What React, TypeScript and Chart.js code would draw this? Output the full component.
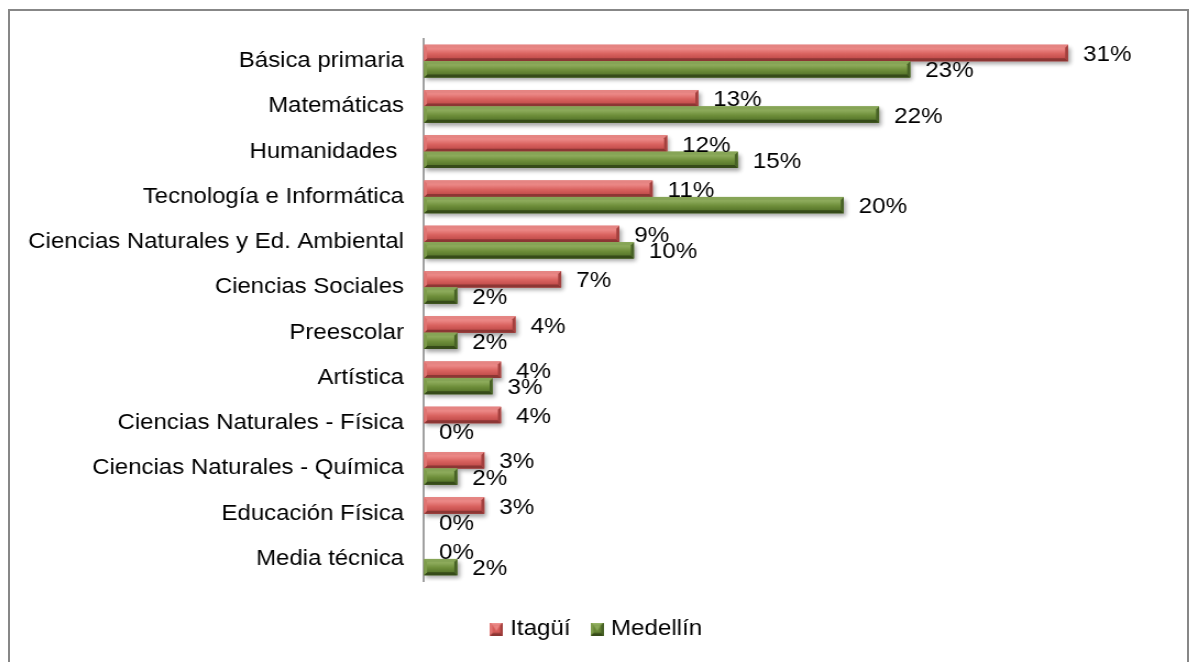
import React, { useEffect, useRef } from "react";
import { Chart, registerables } from "chart.js";

Chart.register(...registerables);

const categories = [
  "Básica primaria",
  "Matemáticas",
  "Humanidades ",
  "Tecnología e Informática",
  "Ciencias Naturales y Ed. Ambiental",
  "Ciencias Sociales",
  "Preescolar",
  "Artística",
  "Ciencias Naturales - Física",
  "Ciencias Naturales - Química",
  "Educación Física",
  "Media técnica",
];
const seriesNames = ["Itagüí", "Medellín"];
const itaguiValues = [31.0, 13.2, 11.7, 11.0, 9.4, 6.6, 4.4, 3.7, 3.7, 2.9, 2.9, 0];
const medellinValues = [23.4, 21.9, 15.1, 20.2, 10.1, 1.6, 1.6, 3.3, 0, 1.6, 0, 1.6];

const FONT = "'Liberation Sans', Arial, sans-serif";
const STRETCH = 1.1;
const CANVAS_W = 1070;
const CANVAS_H = 651;

type Pal = {
  face: [number, string][];
  top: string;
  bottom: string;
  left: string;
  right: string;
  mid: string;
};

const palettes: Pal[] = [
  {
    face: [
      [0, "#EE9290"],
      [0.28, "#EA8482"],
      [0.55, "#D9625F"],
      [0.8, "#C5504E"],
      [1, "#B04442"],
    ],
    top: "#E58482",
    bottom: "#8C3634",
    left: "#E07472",
    right: "#A3403E",
    mid: "#D45A57",
  },
  {
    face: [
      [0, "#97B466"],
      [0.28, "#8AA858"],
      [0.55, "#6E8E3A"],
      [0.8, "#5A792D"],
      [1, "#4B6724"],
    ],
    top: "#86A456",
    bottom: "#364B19",
    left: "#7E9C4B",
    right: "#486226",
    mid: "#668535",
  },
];

function poly(ctx: CanvasRenderingContext2D, pts: number[][], color: string) {
  ctx.beginPath();
  ctx.moveTo(pts[0][0], pts[0][1]);
  for (let i = 1; i < pts.length; i++) ctx.lineTo(pts[i][0], pts[i][1]);
  ctx.closePath();
  ctx.fillStyle = color;
  ctx.fill();
}

function drawBevelBar(
  ctx: CanvasRenderingContext2D,
  left: number,
  right: number,
  top: number,
  bottom: number,
  pal: Pal
) {
  const w = right - left;
  const h = bottom - top;
  if (w < 0.5) return;
  const bx = Math.min(3 / STRETCH, w / 2);
  const by = Math.min(3, h / 2);
  const g = ctx.createLinearGradient(0, top, 0, bottom);
  pal.face.forEach(([s, c]) => g.addColorStop(s, c));
  ctx.fillStyle = g;
  ctx.fillRect(left, top, w, h);
  poly(ctx, [[left, top], [right, top], [right - bx, top + by], [left + bx, top + by]], pal.top);
  poly(ctx, [[left, bottom], [right, bottom], [right - bx, bottom - by], [left + bx, bottom - by]], pal.bottom);
  poly(ctx, [[left, top], [left + bx, top + by], [left + bx, bottom - by], [left, bottom]], pal.left);
  poly(ctx, [[right, top], [right - bx, top + by], [right - bx, bottom - by], [right, bottom]], pal.right);
}

function makeMarker(pal: Pal): HTMLCanvasElement {
  const c = document.createElement("canvas");
  const W = 12;
  const H = 13;
  c.width = W;
  c.height = H;
  const g = c.getContext("2d") as CanvasRenderingContext2D;
  g.fillStyle = pal.mid;
  g.fillRect(0, 0, W, H);
  const b = 2.5;
  poly(g, [[0, 0], [W, 0], [W - b, b], [b, b]], pal.face[0][1]);
  poly(g, [[0, H], [W, H], [W - b, H - b], [b, H - b]], pal.bottom);
  poly(g, [[0, 0], [b, b], [b, H - b], [0, H]], pal.left);
  poly(g, [[W, 0], [W - b, b], [W - b, H - b], [W, H]], pal.right);
  poly(g, [[b, b], [W - b, b], [W / 2, 8.5]], pal.face[1][1]);
  return c;
}

const bevelPlugin = {
  id: "bevelAndLabels",
  beforeDatasetsDraw(chart: any) {
    const ctx = chart.ctx as CanvasRenderingContext2D;
    ctx.save();
    ctx.shadowColor = "rgba(0,0,0,0.35)";
    ctx.shadowBlur = 4;
    ctx.shadowOffsetX = 2;
    ctx.shadowOffsetY = 3;
  },
  afterDatasetsDraw(chart: any) {
    const ctx = chart.ctx as CanvasRenderingContext2D;
    ctx.restore();
    ctx.save();
    chart.data.datasets.forEach((ds: any, di: number) => {
      const meta = chart.getDatasetMeta(di);
      meta.data.forEach((bar: any) => {
        const p = bar.getProps(["x", "y", "base", "height"], true);
        drawBevelBar(
          ctx,
          Math.min(p.base, p.x),
          Math.max(p.base, p.x),
          p.y - p.height / 2,
          p.y + p.height / 2,
          palettes[di]
        );
      });
    });
    ctx.restore();
    ctx.save();
    ctx.font = `22px ${FONT}`;
    ctx.fillStyle = "#000";
    ctx.textAlign = "left";
    ctx.textBaseline = "middle";
    chart.data.datasets.forEach((ds: any, di: number) => {
      const meta = chart.getDatasetMeta(di);
      meta.data.forEach((bar: any, i: number) => {
        const p = bar.getProps(["x", "y"], true);
        const v = ds.data[i] as number;
        ctx.fillText(`${Math.round(v)}%`, p.x + 15 / STRETCH, p.y + 2);
      });
    });
    ctx.restore();
  },
};

export default function App() {
  const ref = useRef<HTMLCanvasElement | null>(null);

  useEffect(() => {
    if (!ref.current) return;
    const markers = palettes.map(makeMarker);
    const chart = new Chart(ref.current, {
      type: "bar",
      data: {
        labels: categories,
        datasets: [
          {
            label: seriesNames[0],
            data: itaguiValues,
            backgroundColor: palettes[0].mid,
            borderWidth: 0,
            categoryPercentage: 0.72,
            barPercentage: 1,
          },
          {
            label: seriesNames[1],
            data: medellinValues,
            backgroundColor: palettes[1].mid,
            borderWidth: 0,
            categoryPercentage: 0.72,
            barPercentage: 1,
          },
        ],
      },
      options: {
        indexAxis: "y",
        responsive: false,
        animation: false,
        devicePixelRatio: 1,
        layout: { padding: { top: 27.5, bottom: 12, left: 0, right: 0 } },
        scales: {
          x: {
            min: 0,
            max: 36.72,
            display: true,
            ticks: { display: false },
            grid: { display: false },
            border: { display: false },
            afterFit: (s: any) => {
              s.height = 14;
            },
          },
          y: {
            grid: { display: false, drawTicks: false },
            border: { display: true, color: "#A0A0A0", width: 2 },
            ticks: {
              color: "#000",
              padding: 18.2,
              font: { family: FONT, size: 21.8 },
            },
            afterFit: (s: any) => {
              s.width = 376.4;
              s.paddingTop = 0;
              s.paddingBottom = 0;
            },
          },
        },
        plugins: {
          tooltip: { enabled: false },
          legend: {
            display: true,
            position: "bottom",
            labels: {
              usePointStyle: true,
              boxWidth: 3,
              boxHeight: 12,
              padding: 22.5,
              color: "#000",
              font: { family: FONT, size: 22 },
              generateLabels: () =>
                seriesNames.map((n, i) => ({
                  text: n,
                  fillStyle: palettes[i].mid,
                  strokeStyle: "transparent",
                  lineWidth: 0,
                  pointStyle: markers[i],
                  hidden: false,
                  datasetIndex: i,
                })),
            },
          },
        },
      },
      plugins: [bevelPlugin],
    } as any);
    return () => chart.destroy();
  }, []);

  return (
    <div style={{ position: "fixed", left: 0, top: 0, right: 0, bottom: 0, overflow: "hidden", background: "#fff" }}>
      <div
        style={{
          position: "absolute",
          left: 8,
          top: 9,
          width: 1181,
          height: 700,
          border: "2px solid #878787",
          boxSizing: "border-box",
          background: "#fff",
        }}
      >
        <canvas
          ref={ref}
          width={CANVAS_W}
          height={CANVAS_H}
          style={{ display: "block", width: `${CANVAS_W * STRETCH}px`, height: `${CANVAS_H}px` }}
        />
      </div>
    </div>
  );
}
